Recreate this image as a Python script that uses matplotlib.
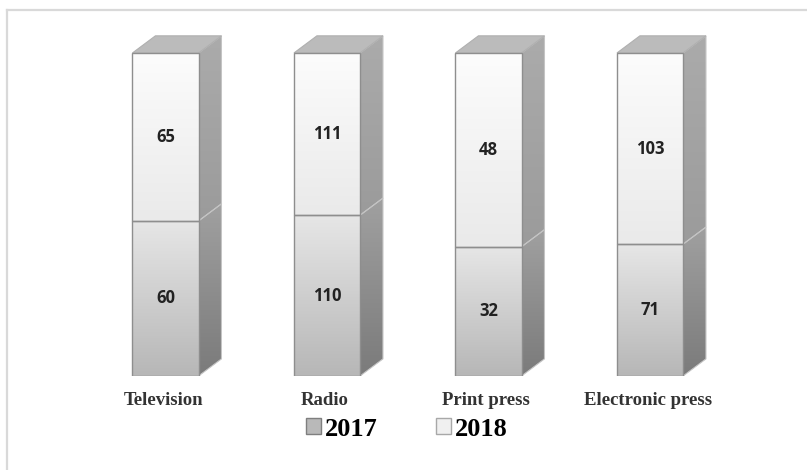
import numpy as np
import matplotlib
matplotlib.use("Agg")
import matplotlib.pyplot as plt
from matplotlib.colors import LinearSegmentedColormap
from matplotlib.patches import Polygon, Patch
from matplotlib.lines import Line2D

# data
categories = ['Television', 'Radio', 'Print press', 'Electronic press']
values_2017 = [60, 110, 32, 71]
values_2018 = [65, 111, 48, 103]
series_names = ['2017', '2018']

# 100% stacked shares
v17 = np.array(values_2017, dtype=float)
v18 = np.array(values_2018, dtype=float)
tot = v17 + v18
pct17 = v17 / tot * 100
pct18 = v18 / tot * 100

# looks of the faux 3D boxes
front_cols = {'2017': ('#e6e6e6', '#b7b7b7'), '2018': ('#fcfcfc', '#eaeaea')}
side_cols = {'2017': ('#a0a0a0', '#7b7b7b'), '2018': ('#ababab', '#9b9b9b')}
top_col = '#bbbbbb'
DX = 0.142   # depth in x units
DY = 5.3     # depth in y units (percent)
BAR_W = 0.409


def gradient_fill(ax, patch, top, bottom, z):
    """paint a vertical gradient clipped to a patch"""
    bb = patch.get_path().get_extents(patch.get_patch_transform())
    cmap = LinearSegmentedColormap.from_list('g', [bottom, top])
    img = np.linspace(0, 1, 64).reshape(-1, 1)
    im = ax.imshow(img, extent=(bb.x0, bb.x1, bb.y0, bb.y1), origin='lower',
                   cmap=cmap, aspect='auto', zorder=z, interpolation='bicubic')
    im.set_clip_path(patch)
    return im


fig = plt.figure(figsize=(8.07, 4.70), dpi=100)
ax = fig.add_axes([0.10502, 0.2, 0.8005, 0.7698])
ax.set_autoscale_on(False)
ax.set_xlim(-0.5, 3.5)
ax.set_ylim(0, 112)
ax.axis('off')

x = np.arange(len(categories))

for name, vals, bottoms, heights in [('2017', values_2017, np.zeros_like(pct17), pct17),
                                     ('2018', values_2018, pct17, pct18)]:
    bars = ax.bar(x, heights, bottom=bottoms, width=BAR_W, facecolor='none',
                  edgecolor='#8e8e8e', linewidth=1.0, zorder=4)
    for b, v in zip(bars, vals):
        gradient_fill(ax, b, *front_cols[name], z=3)
        xr = b.get_x() + b.get_width()
        y0 = b.get_y()
        y1 = y0 + b.get_height()
        side = Polygon([(xr, y0), (xr + DX, y0 + DY), (xr + DX, y1 + DY), (xr, y1)],
                       closed=True, facecolor='none', edgecolor='#c4c4c4',
                       linewidth=0.8, zorder=2)
        ax.add_patch(side)
        gradient_fill(ax, side, *side_cols[name], z=1)
        # value label in the middle of the segment
        ax.text(b.get_x() + b.get_width() / 2, (y0 + y1) / 2, str(v),
                ha='center', va='center', fontsize=12, color='#222222',
                family='Open Sans', fontweight='bold', zorder=5)

# top faces
for xi, h in zip(x, pct17 + pct18):
    xl = xi - BAR_W / 2
    xr = xi + BAR_W / 2
    top = Polygon([(xl, h), (xl + DX, h + DY), (xr + DX, h + DY), (xr, h)],
                  closed=True, facecolor=top_col, edgecolor='#b0b0b0',
                  linewidth=0.8, zorder=2)
    ax.add_patch(top)

# category labels
for xi, lab in zip(x, categories):
    ax.text(xi - 0.015, -0.069, lab, transform=ax.get_xaxis_transform(),
            ha='center', va='center', fontsize=13.5, fontweight='bold',
            family='Liberation Serif', color='#333333')

# legend
handles = [Patch(facecolor='#b9b9b9', edgecolor='#7f7f7f', linewidth=1.0),
           Patch(facecolor='#f0f0f0', edgecolor='#a8a8a8', linewidth=1.0)]
fig.legend(handles, series_names, loc='center', bbox_to_anchor=(0.504, 0.087),
           ncol=2, frameon=False, handlelength=0.57, handleheight=0.57,
           handletextpad=0.15, columnspacing=2.2, borderaxespad=0,
           prop={'family': 'Liberation Serif', 'weight': 'bold', 'size': 19})

# light frame at top and left
fig.add_artist(Line2D([7 / 807, 1], [1 - 10 / 470, 1 - 10 / 470],
                      color='#d9d9d9', linewidth=1.6, transform=fig.transFigure))
fig.add_artist(Line2D([7 / 807, 7 / 807], [0, 1 - 10 / 470],
                      color='#d9d9d9', linewidth=1.6, transform=fig.transFigure))

fig.savefig('out.png', dpi=100)
